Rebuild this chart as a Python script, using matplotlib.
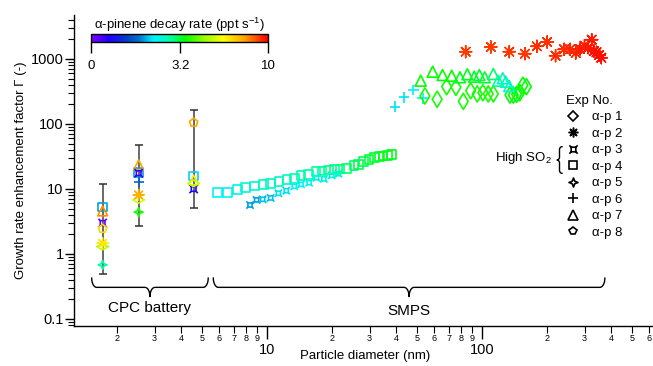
import numpy as np
import matplotlib.pyplot as plt
from matplotlib.colors import LinearSegmentedColormap, LogNorm
from matplotlib.cm import ScalarMappable
from matplotlib.lines import Line2D
from matplotlib.markers import MarkerStyle
from matplotlib.path import Path
from matplotlib.transforms import IdentityTransform
from matplotlib.ticker import FixedLocator, FixedFormatter, LogLocator, NullFormatter, NullLocator

plt.rcParams['font.family'] = ['Liberation Sans', 'DejaVu Sans']
plt.rcParams['mathtext.fontset'] = 'custom'
plt.rcParams['mathtext.rm'] = 'Liberation Sans'
plt.rcParams['mathtext.it'] = 'Liberation Sans:italic'

# ---- CPC battery (three channels) ----
cpc_d = [1.72, 2.53, 4.56]
cpc_lo = [0.50, 2.65, 5.1]
cpc_hi = [11.8, 48.0, 164.0]

nan = np.nan
# Gamma at each CPC channel and the decay rate (ppt s-1) used for colour
ap1_cpc = [1.30, 6.8, 12.2];  ap1_cpc_rate = [4.6, 5.0, 5.0]
ap2_cpc = [1.46, 8.1, nan];   ap2_cpc_rate = [6.0, 7.1, nan]
ap3_cpc = [3.0, 17.5, 10.0];  ap3_cpc_rate = [1.07, 1.2, 1.3]
ap4_cpc = [5.3, 17.8, 15.8];  ap4_cpc_rate = [2.0, 2.0, 2.15]
ap5_cpc = [0.68, 4.4, nan];   ap5_cpc_rate = [2.8, 3.5, nan]
ap6_cpc = [nan, 12.8, nan];   ap6_cpc_rate = [nan, 1.8, nan]
ap7_cpc = [4.6, 23.5, 13.7];  ap7_cpc_rate = [7.6, 7.2, 6.0]
ap8_cpc = [2.45, nan, 105.0]; ap8_cpc_rate = [6.3, nan, 7.2]

# ---- SMPS ----
ap4_d = [5.90, 6.56, 7.28, 7.96, 8.73, 9.61, 10.4, 11.4, 12.4, 13.4, 14.4, 15.6, 16.9,
         18.0, 19.3, 20.6, 21.9, 23.5, 25.4, 26.7, 28.1, 29.8, 31.7, 33.3, 34.7, 36.3, 38.0]
ap4_g = [8.9, 8.9, 9.75, 10.6, 11.1, 11.8, 12.1, 13.1, 13.9, 14.6, 16.0, 16.8, 18.7,
         18.9, 19.5, 20.1, 20.3, 20.8, 23.2, 24.0, 26.7, 28.6, 30.7, 31.8, 32.2, 32.5, 33.7]
ap4_rate = [2.3, 2.3, 2.4, 2.5, 2.5, 2.6, 2.6, 2.6, 2.6, 2.7, 2.7, 2.8, 2.8,
            2.8, 2.9, 2.9, 2.9, 3.0, 3.0, 3.1, 3.1, 3.2, 3.2, 3.2, 3.3, 3.3, 3.3]

ap3_d = [8.34, 8.95, 9.55, 10.4, 11.3, 12.3, 13.4, 14.4, 15.7, 17.0, 18.4, 20.0, 21.5]
ap3_g = [5.67, 6.78, 6.94, 7.28, 8.59, 9.42, 11.0, 11.8, 12.5, 14.9, 14.3, 16.2, 17.2]
ap3_rate = [2.0, 2.0, 2.1, 2.1, 2.2, 2.2, 2.3, 2.3, 2.3, 2.4, 2.4, 2.5, 2.5]

ap6_d = [39.4, 43.4, 47.9, 53.0]
ap6_g = [184, 258, 333, 249]
ap6_rate = [2.2, 2.2, 2.3, 2.3]

ap7_d = [51.9, 59.0, 65.6, 72.3, 79.0, 85.5, 92.1, 97.2, 103, 113, 119, 125, 129, 134]
ap7_g = [464, 638, 567, 553, 523, 582, 534, 567, 523, 588, 464, 505, 448, 384]
ap7_rate = [3.4, 3.4, 3.4, 3.4, 3.3, 3.3, 3.3, 3.2, 3.2, 3.0, 2.8, 2.7, 2.6, 2.5]

ap1_d = [54.3, 61.9, 68.5, 75.7, 81.9, 88.6, 95.1, 101, 107, 113, 135, 140, 145, 150, 155, 161]
ap1_g = [270, 240, 375, 367, 223, 325, 290, 303, 290, 290, 279, 279, 286, 303, 394, 375]
ap1_rate = [3.5, 3.5, 3.5, 3.5, 3.5, 3.5, 3.5, 3.5, 3.5, 3.5, 3.4, 3.4, 3.4, 3.4, 3.4, 3.4]

ap2_d = [84.0, 110, 134, 158.5, 180, 201, 220, 241, 257, 273, 286, 300, 312, 324, 332, 341, 351, 359]
ap2_g = [1295, 1530, 1295, 1206, 1567, 1827, 1124, 1410, 1410, 1237, 1425, 1603, 1492, 1981,
         1328, 1268, 1152, 1047]
ap2_rate = [8.9, 8.9, 9.0, 9.0, 9.1, 9.1, 9.2, 9.2, 9.3, 9.3, 9.4, 9.4, 9.5, 9.5, 9.6, 9.6, 9.7, 9.7]

exp_labels = ['α-p 1', 'α-p 2', 'α-p 3', 'α-p 4', 'α-p 5', 'α-p 6', 'α-p 7', 'α-p 8']

# rainbow colour table, violet -> red
cmap = LinearSegmentedColormap.from_list('decay', [
    (0.00, '#8000ff'), (0.10, '#2000ff'), (0.20, '#0040c8'), (0.27, '#0070c8'),
    (0.35, '#00f0ff'), (0.45, '#00ffa0'), (0.53, '#00ff00'), (0.65, '#a0ff00'),
    (0.75, '#ffff00'), (0.87, '#ffa000'), (1.00, '#ff0000')])
norm = LogNorm(1, 10)

# custom open markers
box_verts = [(-0.5, -0.5), (0.5, -0.5), (0.5, 0.5), (-0.5, 0.5), (-0.5, -0.5),
             (0.5, 0.5), (0.9, 0.9), (-0.5, 0.5), (-0.9, 0.9), (0.5, -0.5), (0.9, -0.9),
             (-0.5, -0.5), (-0.9, -0.9)]
box_codes = [Path.MOVETO, Path.LINETO, Path.LINETO, Path.LINETO, Path.CLOSEPOLY,
             Path.MOVETO, Path.LINETO, Path.MOVETO, Path.LINETO, Path.MOVETO, Path.LINETO,
             Path.MOVETO, Path.LINETO]
box_marker = Path(box_verts, box_codes)
star_marker = Path([(0, 1), (0.28, 0.28), (1, 0), (0.28, -0.28), (0, -1), (-0.28, -0.28),
                    (-1, 0), (-0.28, 0.28), (0, 1)], closed=True)
wide_diamond = Path([(-1, 0), (0, 0.55), (1, 0), (0, -0.55), (-1, 0)], closed=True)


def draw(ax, x, y, rate, marker, s, lw=1.2, z=3):
    cols = cmap(norm(np.asarray(rate, float)))
    if MarkerStyle(marker).is_filled():
        ax.scatter(x, y, s=s, marker=marker, facecolors='none', edgecolors=cols,
                   linewidths=lw, zorder=z)
    else:
        ax.scatter(x, y, s=s, marker=marker, c=cols, linewidths=lw, zorder=z)


def brace(p0, p1, h, r, normal):
    p0, p1 = np.asarray(p0, float), np.asarray(p1, float)
    L = np.linalg.norm(p1 - p0)
    e = (p1 - p0) / L
    n = np.asarray(normal, float)
    t = np.linspace(0, np.pi / 2, 15)
    u = np.r_[r - r * np.cos(t), L / 2 - r + r * np.sin(t)]
    v = np.r_[h / 2 * np.sin(t), h - h / 2 * np.cos(t)]
    u = np.r_[u, L - u[::-1]]
    v = np.r_[v, v[::-1]]
    pts = p0 + u[:, None] * e + v[:, None] * n
    return pts[:, 0], pts[:, 1]


W, H = 653, 366
fig = plt.figure(figsize=(W / 100, H / 100), dpi=100)
ax = fig.add_axes([74 / W, 40 / H, 578 / W, 311 / H])

# error bars of the CPC battery
ax.vlines(cpc_d, cpc_lo, cpc_hi, color='#404040', lw=1.1, zorder=2)
ax.scatter(cpc_d + cpc_d, cpc_lo + cpc_hi, marker='_', s=30, color='#303030', linewidths=1.1, zorder=2)

# CPC markers
draw(ax, cpc_d, ap4_cpc, ap4_cpc_rate, 's', 40)
draw(ax, cpc_d, ap7_cpc, ap7_cpc_rate, '^', 50)
draw(ax, cpc_d, ap3_cpc, ap3_cpc_rate, box_marker, 36)
draw(ax, cpc_d, ap8_cpc, ap8_cpc_rate, 'p', 40)
draw(ax, cpc_d, ap6_cpc, ap6_cpc_rate, '+', 50)
draw(ax, cpc_d, ap1_cpc, ap1_cpc_rate, wide_diamond, 70)
draw(ax, cpc_d, ap2_cpc, ap2_cpc_rate, (8, 2, 0), 60, lw=1.0)
draw(ax, cpc_d, ap5_cpc, ap5_cpc_rate, star_marker, 40)

# SMPS markers
draw(ax, ap4_d, ap4_g, ap4_rate, 's', 38)
draw(ax, ap3_d, ap3_g, ap3_rate, box_marker, 28)
draw(ax, ap6_d, ap6_g, ap6_rate, '+', 60)
draw(ax, ap1_d, ap1_g, ap1_rate, 'd', 68)
draw(ax, ap7_d, ap7_g, ap7_rate, '^', 62)
draw(ax, ap2_d, ap2_g, ap2_rate, (8, 2, 0), 75, lw=1.1)

ax.set_xscale('log')
ax.set_yscale('log')
ax.set_xlim(1.266, 618)
ax.set_ylim(0.078, 4750)
for side in ['top', 'right']:
    ax.spines[side].set_visible(False)
for side in ['left', 'bottom']:
    ax.spines[side].set_linewidth(1.0)

# x ticks: labelled decades plus small labelled minors
ax.xaxis.set_major_locator(FixedLocator([10, 100]))
ax.xaxis.set_major_formatter(FixedFormatter(['10', '100']))
minor_x = [2, 3, 4, 5, 6, 7, 8, 9, 20, 30, 40, 50, 60, 70, 80, 90, 200, 300, 400, 500, 600]
ax.xaxis.set_minor_locator(FixedLocator(minor_x))
ax.xaxis.set_minor_formatter(FixedFormatter([str(v)[0] for v in minor_x]))
ax.tick_params(axis='x', which='major', direction='out', length=9, width=1, labelsize=10.5, pad=3)
ax.tick_params(axis='x', which='minor', direction='out', length=5, width=0.8, labelsize=6.5, pad=0.5)

ax.yaxis.set_major_locator(FixedLocator([0.1, 1, 10, 100, 1000]))
ax.yaxis.set_major_formatter(FixedFormatter(['0.1', '1', '10', '100', '1000']))
ax.yaxis.set_minor_locator(LogLocator(base=10, subs=np.arange(2, 10)))
ax.yaxis.set_minor_formatter(NullFormatter())
ax.tick_params(axis='y', which='major', direction='out', length=6.5, width=1, labelsize=10.5, pad=1)
ax.tick_params(axis='y', which='minor', direction='out', length=4, width=0.8)

ax.set_xlabel('Particle diameter (nm)', fontsize=9.5)
ax.xaxis.set_label_coords(0.503, -0.077)
ax.set_ylabel('Growth rate enhancement factor Γ (-)', fontsize=9.5, labelpad=3)

# braces under the two instruments
fig.canvas.draw()
y_top = ax.transAxes.transform((0, 0.154))[1]
for (d0, d1), name, ytxt in [((1.53, 5.33), 'CPC battery', 0.058), ((5.63, 373), 'SMPS', 0.049)]:
    x0 = ax.transData.transform((d0, 1))[0]
    x1 = ax.transData.transform((d1, 1))[0]
    bx, by = brace((x0, y_top), (x1, y_top), 18.5, 5, (0, -1))
    fig.add_artist(Line2D(bx, by, color='black', lw=1.0, transform=IdentityTransform()))
    ax.text(np.sqrt(d0 * d1), ytxt, name, transform=ax.get_xaxis_transform(),
            ha='center', va='center', fontsize=11)

# legend
handles = [
    Line2D([], [], marker='D', ls='none', color='k', mfc='none', ms=5, mew=1.2),
    Line2D([], [], marker=(8, 2, 0), ls='none', color='k', ms=7, mew=1.1),
    Line2D([], [], marker=box_marker, ls='none', color='k', mfc='none', ms=6, mew=1.2),
    Line2D([], [], marker='s', ls='none', color='k', mfc='none', ms=6, mew=1.2),
    Line2D([], [], marker=star_marker, ls='none', color='k', mfc='none', ms=6.5, mew=1.2),
    Line2D([], [], marker='+', ls='none', color='k', ms=7, mew=1.2),
    Line2D([], [], marker='^', ls='none', color='k', mfc='none', ms=7, mew=1.2),
    Line2D([], [], marker='p', ls='none', color='k', mfc='none', ms=6, mew=1.2),
]
ax.legend(handles, exp_labels, title='Exp No.', loc='upper left',
          bbox_to_anchor=(566 / W, 1 - 95 / H), bbox_transform=fig.transFigure,
          frameon=False, fontsize=9.5, title_fontsize=9.5, handlelength=1.0,
          handletextpad=1.0, labelspacing=0.32, borderpad=0, borderaxespad=0,
          alignment='left')

fig.text(552 / W, 1 - 158.3 / H, 'High SO$_2$', ha='right', va='center', fontsize=9.5)
bx, by = brace((562, H - 146.7), (562, H - 173.3), 5, 3, (-1, 0))
fig.add_artist(Line2D(bx, by, color='black', lw=1.0, transform=IdentityTransform()))

# colour bar for the decay rate
cax = fig.add_axes([91 / W, 1 - 42 / H, 177 / W, 8 / H])
cb = fig.colorbar(ScalarMappable(norm=norm, cmap=cmap), cax=cax, orientation='horizontal')
cb.set_ticks([1, 3.2, 10])
cb.set_ticklabels(['0', '3.2', '10'])
cax.xaxis.set_minor_locator(NullLocator())
cax.tick_params(axis='x', direction='out', length=8, width=1, labelsize=9.5, pad=5)
cb.outline.set_linewidth(1.0)
cax.set_title('α-pinene decay rate (ppt s$^{-1}$)', fontsize=9.5, pad=-0.5)

fig.savefig('out.png', dpi=100)
